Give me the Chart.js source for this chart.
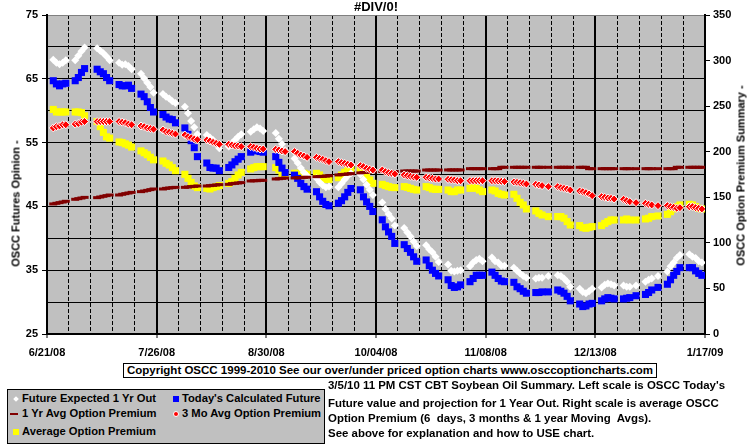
<!DOCTYPE html>
<html><head><meta charset="utf-8">
<script src="https://cdn.jsdelivr.net/npm/chart.js@4.4.1/dist/chart.umd.min.js"></script>
<style>
html,body{margin:0;padding:0;background:#fff;}
#wrap{position:relative;width:755px;height:446px;overflow:hidden;font-family:"Liberation Sans",Arial,sans-serif;font-weight:bold;font-size:11px;color:#000;}
#c{position:absolute;left:0;top:0;}
.abs{position:absolute;white-space:pre;line-height:13px;height:13px;}
.vt{width:220px;text-align:center;transform:rotate(-90deg);}
.note{font-size:11.45px;}
#copy{left:123px;top:363px;width:532px;height:13px;border:1px solid #000;background:#fff;text-align:center;line-height:13px;font-size:11.5px;}
#legend{left:7px;top:389px;width:316px;height:53px;border:1px solid #000;background:#C0C0C0;font-size:11.2px;}
.sw{position:absolute;}
</style></head><body>
<div id="wrap">
<canvas id="c" width="755" height="446"></canvas>
<div id="ytitleL" class="abs vt" style="left:-94px;top:197px;">OSCC Futures Opinion -</div>
<div id="ytitleR" class="abs vt" style="left:631px;top:169px;">OSCC Option Premium Summary -</div>
<div id="copy" class="abs">Copyright OSCC 1999-2010 See our over/under priced option charts www.osccoptioncharts.com</div>
<div id="legend" class="abs"></div>
<div class="abs note" style="left:328px;top:379px;">3/5/10 11 PM CST CBT Soybean Oil Summary. Left scale is OSCC Today's</div>
<div class="abs note" style="left:328px;top:397px;">Future value and projection for 1 Year Out. Right scale is average OSCC</div>
<div class="abs note" style="left:328px;top:412px;">Option Premium (6  days, 3 months &amp; 1 year Moving  Avgs).</div>
<div class="abs note" style="left:328px;top:427px;">See above for explanation and how to USE chart.</div>
</div>
<script>
const chartTitle = '#DIV/0!';
const xTickLabels = ['6/21/08','7/26/08','8/30/08','10/04/08','11/08/08','12/13/08','1/17/09'];
const leftTickLabels = ['25','35','45','55','65','75'];
const rightTickLabels = ['0','50','100','150','200','250','300','350'];

// trading days, counted in days from 6/21/08
const tradingDays = [
  2,3,4,5,6, 9,10,11,12, 16,17,18,19,20, 23,24,25,26,27, 30,31,32,33,34,
  37,38,39,40,41, 44,45,46,47,48, 51,52,53,54,55, 58,59,60,61,62, 65,66,67,68,69,
  73,74,75,76, 79,80,81,82,83, 86,87,88,89,90, 93,94,95,96,97, 100,101,102,103,104,
  107,108,109,110,111, 114,115,116,117,118, 121,122,123,124,125, 128,129,130,131,132, 135,136,137,138,139,
  142,143,144,145,146, 149,150,151,152,153, 156,157,158,160, 163,164,165,166,167, 170,171,172,173,174,
  177,178,179,180,181, 184,185,186,188, 191,192,193,195, 198,199,200,201,202, 205,206,207,208,209
];

// left scale
const futureExpected1Yr = [
  68.0,67.5,67.3,67.5,67.9, 67.9,68.6,69.3,69.9, 69.8,69.4,69.0,68.5,67.9, 67.5,67.2,67.3,67.0,66.5, 65.8,65.1,64.4,63.7,62.8,
  62.6,62.2,61.9,61.5,61.2, 60.6,59.6,58.4,57.4,56.3, 56.2,55.8,55.4,54.8,54.1, 54.4,54.9,55.4,55.9,56.3, 56.7,57.1,57.4,57.2,56.8,
  56.5,55.6,54.8,53.8, 52.5,51.8,51.0,50.3,49.8, 49.4,48.8,48.3,48.0,48.1, 48.0,48.6,49.2,49.8,50.2, 50.0,49.2,48.4,47.6,46.8,
  45.6,44.6,43.8,43.1,42.0, 41.6,40.9,40.3,39.5,38.8, 38.9,38.3,37.8,37.1,36.3, 35.9,34.9,34.8,34.9,35.0, 35.6,36.2,36.6,36.8,36.4,
  37.0,36.4,36.2,35.7,35.7, 35.4,34.9,34.5,34.1,33.8, 33.7,33.8,33.8,34.1, 34.2,34.1,33.7,33.2,32.4, 32.1,31.6,31.4,31.7,32.1,
  32.3,32.7,32.9,32.8,32.6, 32.6,32.4,32.4,32.6, 33.2,33.5,33.7,34.1, 34.8,35.6,36.2,36.9,37.4, 37.5,37.1,36.9,36.4,36.2
];
const todaysCalculated = [
  64.7,64.2,63.9,64.2,64.3, 64.7,65.2,66.0,66.6, 66.5,66.1,65.8,65.2,64.7, 64.1,63.9,63.9,64.0,63.5, 62.6,62.2,61.4,60.5,59.8,
  59.4,59.0,58.7,58.6,58.1, 57.3,56.3,55.3,54.2,52.8, 51.8,51.1,51.0,51.0,50.6, 51.1,51.5,52.0,52.4,52.8, 53.5,53.7,53.8,53.6,53.5,
  52.8,51.9,51.0,50.3, 49.9,49.4,48.6,48.1,47.7, 47.3,46.5,45.8,45.3,45.1, 45.5,45.9,46.5,47.2,47.8, 47.6,46.5,45.7,45.0,44.2,
  42.9,41.8,41.0,40.3,39.2, 39.0,38.4,37.8,37.1,36.4, 36.6,35.7,35.0,34.5,34.1, 33.5,32.6,32.3,32.4,32.7, 33.2,33.7,34.2,34.2,34.2,
  34.7,34.2,33.7,33.3,33.2, 33.1,32.4,32.1,31.7,31.4, 31.5,31.5,31.6,31.6, 31.9,31.7,31.4,30.9,30.2, 29.7,29.3,29.4,29.7,29.8,
  30.2,30.5,30.7,30.6,30.5, 30.5,30.6,30.7,31.0, 31.2,31.5,31.9,32.3, 32.8,33.5,34.2,34.8,35.4, 35.4,35.4,34.9,34.5,34.2
];

// right scale
const avg1YrPremium = [
  142.7,143.4,144.1,144.8,145.6, 147.8,148.5,149.2,149.9, 149.6,150.3,151.1,151.8,152.5, 152.5,153.3,154.0,154.7,155.4, 156.2,156.9,157.6,158.4,159.1,
  159.1,159.8,160.2,160.6,160.9, 160.9,161.3,161.7,162.0,162.4, 162.4,162.8,163.1,163.5,163.9, 164.2,165.0,165.3,165.7,166.1, 167.9,168.2,168.2,168.6,168.6,
  170.1,170.4,170.8,171.1, 171.2,171.5,171.5,171.8,172.0, 172.6,172.8,173.0,173.3,173.6, 174.5,175.0,175.2,175.6,176.0, 176.8,177.2,177.4,177.8,178.0,
  178.3,178.3,178.3,178.3,178.3, 178.8,178.8,178.8,178.8,178.8, 179.9,179.9,179.9,179.9,179.9, 180.0,180.0,180.0,180.0,180.0, 181.4,181.4,181.4,181.4,181.4,
  181.4,181.4,181.4,182.9,182.9, 182.9,182.9,182.9,182.9,182.9, 182.9,182.9,182.9,182.9, 182.9,182.9,182.9,182.9,182.9, 182.9,182.9,182.9,181.4,181.4,
  181.4,181.4,181.4,181.4,181.4, 181.4,181.4,181.4,181.4, 181.4,181.4,181.4,181.4, 181.4,181.4,181.4,182.9,182.9, 182.9,182.9,182.9,182.9,182.9
];
const avg3MoPremium = [
  226.1,227.5,228.2,229.6,229.6, 230.3,231.0,232.4,233.1, 233.1,233.1,233.1,233.1,233.1, 233.1,232.4,231.7,230.3,229.6, 228.2,227.5,226.1,225.4,224.7,
  223.8,222.0,221.3,220.2,219.4, 218.3,216.5,215.4,213.9,213.2, 212.9,211.8,210.3,209.2,208.1, 208.1,207.4,206.6,206.3,205.6, 205.6,204.8,203.7,203.0,203.0,
  202.6,201.9,200.8,200.1, 200.1,198.2,196.4,195.3,193.8, 193.8,192.7,191.6,190.2,189.1, 189.1,188.0,187.3,186.2,185.4, 184.7,183.6,181.8,180.7,180.0,
  180.0,178.1,177.0,176.3,175.6, 174.5,173.7,173.0,172.3,171.9, 171.9,171.5,170.8,170.1,170.1, 169.7,169.3,169.0,168.2,168.2, 168.2,168.2,168.2,168.2,168.2,
  168.2,168.2,167.9,167.5,167.2, 166.8,166.4,166.0,165.3,164.6, 164.2,163.5,162.8,161.7, 161.7,160.6,159.8,159.1,158.0, 156.9,156.2,155.1,153.6,151.8,
  150.7,150.0,149.2,148.9,148.1, 147.8,146.3,145.2,144.1, 143.4,142.3,141.6,140.8, 140.8,139.7,139.0,137.9,138.6, 139.7,139.7,138.6,137.9,137.2
];
const avgPremium = [
  246.4,243.6,243.6,243.6,243.6, 243.6,243.6,242.9,239.4, 233.1,227.5,221.2,216.3,214.9, 210.7,210.0,208.6,207.2,205.1, 200.9,198.8,196.7,193.9,191.1,
  189.8,187.3,185.4,182.5,179.2, 175.2,170.8,166.4,162.4,160.6, 159.8,159.1,160.6,161.7,162.8, 165.3,167.2,170.8,174.5,177.4, 181.1,182.5,183.6,183.6,183.6,
  182.5,180.0,176.3,174.5, 176.3,176.3,176.3,176.3,175.2, 176.3,174.5,171.5,169.7,169.7, 171.5,174.5,177.4,180.0,181.1, 180.0,176.3,172.6,169.0,165.3,
  164.2,162.8,161.7,160.9,160.6, 161.7,160.9,159.8,158.7,158.0, 161.7,160.6,159.1,158.7,158.7, 158.0,156.2,156.2,158.0,158.0, 159.8,160.6,159.8,158.0,156.2,
  158.0,156.9,154.3,153.3,152.5, 153.3,148.9,144.5,141.6,137.2, 135.0,132.4,130.6,128.8, 128.8,128.8,127.0,123.3,119.6, 118.9,116.7,116.0,117.1,117.8,
  118.9,121.4,123.3,125.1,125.1, 125.1,126.2,125.1,125.1, 126.2,127.0,128.8,129.5, 131.3,134.2,137.2,139.7,141.6, 142.3,141.6,139.7,137.9,137.2
];

const seriesLabels = ['Future Expected 1 Yr Out', "Today's Calculated Future", '1 Yr Avg Option Premium', '3 Mo Avg Option Premium', 'Average Option Premium'];

const FONT = {family: '"Liberation Sans", Arial, sans-serif', size: 11, weight: 'bold'};
const pts = vals => vals.map((v, i) => ({x: tradingDays[i], y: v}));

const plotBg = {
  id: 'plotBg',
  beforeDraw(chart) {
    const a = chart.chartArea, ctx = chart.ctx;
    ctx.save();
    ctx.fillStyle = '#C0C0C0';
    ctx.fillRect(a.left, a.top, a.right - a.left, a.bottom - a.top);
    ctx.restore();
  }
};

const chart = new Chart(document.getElementById('c'), {
  type: 'scatter',
  data: {
    datasets: [
      {label: seriesLabels[0], data: pts(futureExpected1Yr), xAxisID: 'x', yAxisID: 'yL', showLine: false, order: 3,
       pointStyle: 'rectRot', pointRadius: 4, pointHoverRadius: 4, pointBackgroundColor: '#FFFFFF', pointBorderColor: '#FFFFFF', pointBorderWidth: 0},
      {label: seriesLabels[1], data: pts(todaysCalculated), xAxisID: 'x', yAxisID: 'yL', showLine: false, order: 2,
       pointStyle: 'rect', pointRadius: 5, pointHoverRadius: 5, pointBackgroundColor: '#0000FF', pointBorderColor: '#0000FF', pointBorderWidth: 0},
      {label: seriesLabels[2], data: pts(avg1YrPremium), xAxisID: 'x', yAxisID: 'yR', showLine: false, order: 1,
       pointStyle: 'line', pointRadius: 4, pointHoverRadius: 4, pointBackgroundColor: '#800000', pointBorderColor: '#800000', pointBorderWidth: 3},
      {label: seriesLabels[3], data: pts(avg3MoPremium), xAxisID: 'x', yAxisID: 'yR', showLine: false, order: 0,
       pointStyle: 'rectRot', pointRadius: 4, pointHoverRadius: 4, pointBackgroundColor: '#FF0000', pointBorderColor: '#FFFFFF', pointBorderWidth: 1},
      {label: seriesLabels[4], data: pts(avgPremium), xAxisID: 'x', yAxisID: 'yR', showLine: false, order: 4,
       pointStyle: 'rect', pointRadius: 5, pointHoverRadius: 5, pointBackgroundColor: '#FFFF00', pointBorderColor: '#FFFF00', pointBorderWidth: 0}
    ]
  },
  options: {
    responsive: false, animation: false, devicePixelRatio: 1, events: [],
    layout: {padding: 0},
    plugins: {
      legend: {display: false},
      tooltip: {enabled: false},
      title: {display: true, text: chartTitle, color: '#000', fullSize: false,
              font: {family: FONT.family, size: 13, weight: 'bold', lineHeight: 1}, padding: {top: 1, bottom: 1}}
    },
    scales: {
      x: {type: 'linear', position: 'bottom', min: 0, max: 210,
          ticks: {stepSize: 35, autoSkip: false, maxRotation: 0, padding: 8, color: '#000', font: FONT,
                  callback: (v, i) => xTickLabels[i]},
          grid: {color: '#000', lineWidth: 2, drawTicks: true, tickLength: 4, tickColor: '#000', tickWidth: 1},
          border: {display: true, color: '#000', width: 2},
          afterFit: s => { s.height = 112; }},
      xMinor: {type: 'linear', position: 'bottom', min: 0, max: 210,
          ticks: {stepSize: 7, display: false, autoSkip: false},
          grid: {color: '#000', lineWidth: 1, drawTicks: false, borderDash: [4, 2]},
          border: {display: false, dash: [4, 2], dashOffset: 0},
          afterFit: s => { s.height = 0; }},
      yL: {type: 'linear', position: 'left', min: 25, max: 75,
          ticks: {stepSize: 5, autoSkip: false, padding: 4, color: '#000', font: FONT,
                  callback: v => leftTickLabels.includes(String(v)) ? String(v) : ''},
          grid: {lineWidth: 1, drawTicks: true, tickLength: 5,
                 color: c => (c.tick && c.tick.value === 75) ? '#808080' : '#000',
                 tickColor: c => (c.tick && leftTickLabels.includes(String(c.tick.value))) ? '#000' : 'rgba(0,0,0,0)'},
          border: {color: '#000', width: 2},
          afterFit: s => { s.width = 47; }},
      yR: {type: 'linear', position: 'right', min: 0, max: 350,
          ticks: {stepSize: 50, autoSkip: false, padding: 3, color: '#000', font: FONT,
                  callback: v => rightTickLabels.includes(String(v)) ? String(v) : ''},
          grid: {drawOnChartArea: false, drawTicks: true, tickLength: 5, tickColor: '#000'},
          border: {color: '#000', width: 2},
          afterFit: s => { s.width = 50; }}
    }
  },
  plugins: [plotBg]
});

// HTML legend built from the chart's datasets
(function buildLegend() {
  const box = document.getElementById('legend');
  const ds = chart.data.datasets;
  const slots = [
    {i: 0, x: 0, y: 0}, {i: 1, x: 160, y: 0},
    {i: 2, x: 0, y: 15}, {i: 3, x: 160, y: 15},
    {i: 4, x: 0, y: 33}
  ];
  slots.forEach(s => {
    const d = ds[s.i];
    const item = document.createElement('div');
    item.className = 'abs';
    item.style.left = (s.x + 14) + 'px';
    item.style.top = (s.y + 2) + 'px';
    item.textContent = d.label;
    box.appendChild(item);
    const sw = document.createElement('div');
    sw.className = 'sw';
    const cy = s.y + 8.5;
    if (d.pointStyle === 'rectRot' && d.pointBorderColor === '#FFFFFF' && d.pointBorderWidth > 0) {
      sw.style.cssText += `left:${s.x + 5}px;top:${cy - 3}px;width:4px;height:4px;border-radius:50%;background:${d.pointBackgroundColor};border:1px solid #fff;`;
    } else if (d.pointStyle === 'rectRot') {
      sw.style.cssText += `left:${s.x + 6}px;top:${cy - 2}px;width:4px;height:4px;transform:rotate(45deg);background:${d.pointBackgroundColor};`;
    } else if (d.pointStyle === 'line') {
      sw.style.cssText += `left:${s.x + 2}px;top:${cy - 1}px;width:8px;height:2px;background:${d.pointBorderColor};`;
    } else {
      sw.style.cssText += `left:${s.x + 5}px;top:${cy - 3}px;width:6px;height:6px;background:${d.pointBackgroundColor};`;
    }
    box.appendChild(sw);
  });
})();
</script>
</body></html>
